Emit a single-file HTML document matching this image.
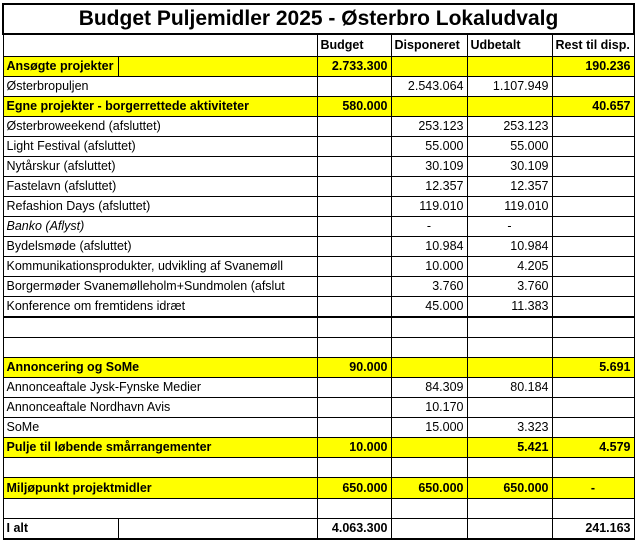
<!DOCTYPE html>
<html><head><meta charset="utf-8">
<style>
body{margin:0;background:#fff;width:635px;height:539px;overflow:hidden;font-family:"Liberation Sans",sans-serif;}
table{position:absolute;left:2px;top:3px;border-collapse:collapse;table-layout:fixed;}
td{border:1px solid #000;padding:0 3px;height:19px;font-size:12.5px;white-space:nowrap;overflow:hidden;color:#000;line-height:19px;}
td.r{text-align:right;}
td.c{text-align:center;}
tr.y td{background:#ffff00;font-weight:bold;}
tr.h td{font-weight:bold;}
.t td{height:28px;font-size:21px;font-weight:bold;text-align:center;border:2px solid #000;line-height:28px;}
.thick td{border-bottom:2px solid #000;}
</style></head><body>
<table>
<colgroup><col style="width:115px"><col style="width:199px"><col style="width:74px"><col style="width:76px"><col style="width:85px"><col style="width:82px"></colgroup>
<tr class="t"><td colspan="6">Budget Puljemidler 2025 - Østerbro Lokaludvalg</td></tr>
<tr class="h"><td colspan="2" style="height:21px"></td><td>Budget</td><td>Disponeret</td><td>Udbetalt</td><td>Rest til disp.</td></tr>
<tr class="y"><td>Ansøgte projekter</td><td></td><td class="r">2.733.300</td><td></td><td></td><td class="r">190.236</td></tr>
<tr><td colspan="2">Østerbropuljen</td><td></td><td class="r">2.543.064</td><td class="r">1.107.949</td><td></td></tr>
<tr class="y"><td colspan="2">Egne projekter - borgerrettede aktiviteter</td><td class="r">580.000</td><td></td><td></td><td class="r">40.657</td></tr>
<tr><td colspan="2">Østerbroweekend (afsluttet)</td><td></td><td class="r">253.123</td><td class="r">253.123</td><td></td></tr>
<tr><td colspan="2">Light Festival (afsluttet)</td><td></td><td class="r">55.000</td><td class="r">55.000</td><td></td></tr>
<tr><td colspan="2">Nytårskur (afsluttet)</td><td></td><td class="r">30.109</td><td class="r">30.109</td><td></td></tr>
<tr><td colspan="2">Fastelavn (afsluttet)</td><td></td><td class="r">12.357</td><td class="r">12.357</td><td></td></tr>
<tr><td colspan="2">Refashion Days (afsluttet)</td><td></td><td class="r">119.010</td><td class="r">119.010</td><td></td></tr>
<tr><td colspan="2"><i>Banko (Aflyst)</i></td><td></td><td class="c">-</td><td class="c">-</td><td></td></tr>
<tr><td colspan="2">Bydelsmøde (afsluttet)</td><td></td><td class="r">10.984</td><td class="r">10.984</td><td></td></tr>
<tr><td colspan="2">Kommunikationsprodukter, udvikling af Svanemøll</td><td></td><td class="r">10.000</td><td class="r">4.205</td><td></td></tr>
<tr><td colspan="2">Borgermøder Svanemølleholm+Sundmolen (afslut</td><td></td><td class="r">3.760</td><td class="r">3.760</td><td></td></tr>
<tr class="thick"><td colspan="2">Konference om fremtidens idræt</td><td></td><td class="r">45.000</td><td class="r">11.383</td><td></td></tr>
<tr><td colspan="2"></td><td></td><td></td><td></td><td></td></tr>
<tr><td colspan="2"></td><td></td><td></td><td></td><td></td></tr>
<tr class="y"><td colspan="2">Annoncering og SoMe</td><td class="r">90.000</td><td></td><td></td><td class="r">5.691</td></tr>
<tr><td colspan="2">Annonceaftale Jysk-Fynske Medier</td><td></td><td class="r">84.309</td><td class="r">80.184</td><td></td></tr>
<tr><td colspan="2">Annonceaftale Nordhavn Avis</td><td></td><td class="r">10.170</td><td></td><td></td></tr>
<tr><td colspan="2">SoMe</td><td></td><td class="r">15.000</td><td class="r">3.323</td><td></td></tr>
<tr class="y"><td colspan="2">Pulje til løbende smårrangementer</td><td class="r">10.000</td><td></td><td class="r">5.421</td><td class="r">4.579</td></tr>
<tr><td colspan="2"></td><td></td><td></td><td></td><td></td></tr>
<tr class="y"><td colspan="2" style="height:20px">Miljøpunkt projektmidler</td><td class="r">650.000</td><td class="r">650.000</td><td class="r">650.000</td><td class="c">-</td></tr>
<tr><td colspan="2" style="height:14px"></td><td></td><td></td><td></td><td></td></tr>
<tr class="h" style="border-bottom:2px solid #000"><td>I alt</td><td></td><td class="r">4.063.300</td><td></td><td></td><td class="r">241.163</td></tr>
</table>
</body></html>
